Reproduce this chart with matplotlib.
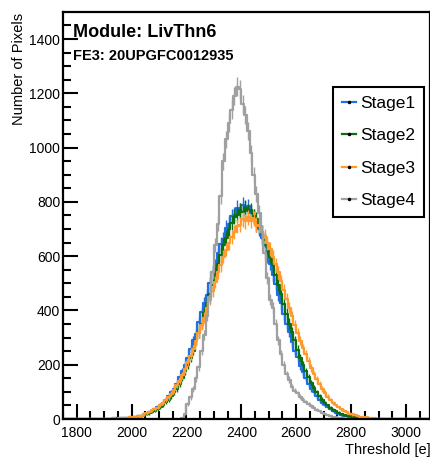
import numpy as np
import matplotlib.pyplot as plt
from matplotlib.lines import Line2D

plt.rcParams['font.family'] = ['Liberation Sans', 'DejaVu Sans']

# threshold histograms, 10 e bins
bin_width = 10
stage123_lo = 1900
stage4_lo = 2170

stage1 = [2, 1, 2, 3, 2, 3, 4, 4, 5, 6,
          8, 9, 12, 13, 17, 20, 26, 30, 38, 44,
          52, 60, 72, 84, 98, 112, 131, 154, 176, 200,
          224, 258, 290, 315, 356, 394, 428, 458, 500, 541,
          566, 610, 645, 664, 705, 718, 748, 752, 778, 768,
          790, 776, 784, 760, 748, 716, 700, 668, 640, 600,
          572, 530, 496, 458, 428, 386, 350, 320, 284, 252,
          228, 196, 172, 152, 130, 112, 98, 84, 72, 60,
          50, 43, 36, 30, 24, 20, 16, 13, 10, 8,
          7, 5, 4, 4, 3, 2, 2, 1, 2, 1,
          1, 0, 1, 0, 0]
stage2 = [1, 2, 1, 2, 3, 2, 3, 4, 5, 5,
          7, 8, 10, 12, 14, 18, 21, 26, 31, 37,
          45, 50, 62, 70, 84, 98, 112, 130, 152, 176,
          198, 224, 252, 290, 318, 352, 392, 426, 462, 494,
          536, 570, 604, 642, 668, 700, 722, 746, 752, 770,
          762, 778, 766, 770, 748, 736, 708, 690, 660, 630,
          598, 566, 530, 494, 460, 424, 388, 352, 320, 290,
          256, 226, 200, 176, 154, 134, 114, 98, 84, 72,
          60, 50, 42, 35, 29, 24, 19, 15, 12, 10,
          8, 6, 5, 4, 3, 3, 2, 2, 1, 1,
          1, 1, 0, 0, 0]
stage3 = [2, 2, 1, 3, 2, 3, 3, 4, 5, 6,
          7, 9, 11, 13, 17, 21, 26, 32, 36, 42,
          50, 58, 70, 80, 94, 108, 124, 142, 162, 184,
          210, 232, 258, 286, 316, 346, 374, 410, 440, 472,
          506, 540, 566, 598, 624, 650, 672, 690, 712, 716,
          736, 728, 744, 730, 738, 716, 712, 690, 676, 648,
          626, 598, 570, 540, 508, 474, 444, 410, 378, 346,
          316, 288, 262, 238, 214, 188, 166, 146, 128, 110,
          96, 82, 70, 60, 50, 43, 36, 30, 25, 20,
          17, 14, 11, 9, 7, 6, 5, 4, 3, 2,
          2, 1, 1, 1, 0]
stage4 = [1, 4, 18, 55, 80, 112, 150, 190, 250, 310,
          380, 450, 540, 640, 720, 820, 950, 1030, 1090, 1140,
          1190, 1225, 1215, 1160, 1120, 1060, 980, 900, 830, 760,
          690, 610, 520, 440, 410, 350, 290, 240, 200, 165,
          145, 118, 105, 95, 82, 72, 62, 54, 48, 40,
          34, 28, 23, 19, 16, 12, 9, 7, 5, 3,
          2, 1, 0]

labels = ['Stage1', 'Stage2', 'Stage3', 'Stage4']
colors = ['#1f6fe6', '#0b6e12', '#ff9a2e', '#a0a0a0']
series = [(stage1, stage123_lo), (stage2, stage123_lo), (stage3, stage123_lo), (stage4, stage4_lo)]

xmin, xmax = 1750, 3088
ymin, ymax = 0, 1500

fig = plt.figure(figsize=(4.31, 4.57), dpi=100)
ax = fig.add_axes([0.146, 0.083, 0.852, 0.891])

for (vals, lo), col in zip(series, colors):
    vals = np.array(vals, dtype=float)
    edges = lo + bin_width * np.arange(len(vals) + 1)
    centers = 0.5 * (edges[:-1] + edges[1:])
    # extend with zero line across the whole axis like ROOT does
    xs = np.concatenate([[xmin], edges, [xmax]])
    ys = np.concatenate([[0], vals, [0, 0]])
    ax.step(xs, ys, where='post', color=col, lw=1.6)
    ax.errorbar(centers, vals, yerr=np.sqrt(vals), fmt='none', ecolor=col, elinewidth=1.0)

ax.set_xlim(xmin, xmax)
ax.set_ylim(ymin, ymax)
ax.set_xticks(np.arange(1800, 3001, 200))
ax.set_xticks(np.arange(1750, 3088, 50), minor=True)
ax.set_yticks(np.arange(0, 1401, 200))
ax.set_yticks(np.arange(0, 1500, 50), minor=True)
ax.tick_params(which='both', direction='in', labelsize=10, width=1.5)
ax.tick_params(which='major', length=11)
ax.tick_params(which='minor', length=6)
ax.tick_params(axis='x', pad=5)
ax.tick_params(axis='y', pad=2)
for s in ax.spines.values():
    s.set_linewidth(1.6)

ax.set_ylabel('Number of Pixels', fontsize=10.5)
ax.yaxis.set_label_coords(-0.10, 0.997, transform=ax.transAxes)
ax.yaxis.label.set_ha('right')
ax.set_xlabel('Threshold [e]', fontsize=10.5, loc='right', labelpad=2)

ax.text(0.027, 0.97, 'Module: LivThn6', transform=ax.transAxes, fontsize=13,
        fontweight='bold', va='top')
ax.text(0.027, 0.908, 'FE3: 20UPGFC0012935', transform=ax.transAxes, fontsize=10.5,
        fontweight='bold', va='top')

handles = [Line2D([0], [0], color=c, lw=1.6, marker='.', markersize=3,
                  markerfacecolor='black', markeredgecolor='black') for c in colors]
leg = ax.legend(handles, labels, loc='upper left', bbox_to_anchor=(0.736, 0.816),
                borderaxespad=0, fontsize=12.5, handlelength=0.8, handletextpad=0.25,
                labelspacing=1.0, borderpad=0.5, fancybox=False, framealpha=1,
                edgecolor='black')
leg.get_frame().set_linewidth(1.5)

fig.savefig('out.png', dpi=100)
